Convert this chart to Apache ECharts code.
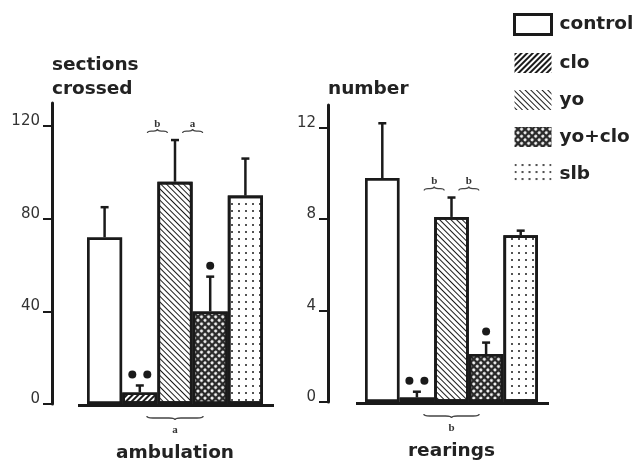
<!DOCTYPE html>
<html><head><meta charset="utf-8">
<script src="https://cdn.jsdelivr.net/npm/echarts@6/dist/echarts.min.js"></script>
<style>html,body{margin:0;padding:0;background:#fff}#c{width:636px;height:463px}</style>
</head><body><div id="c"></div>
<script>
// ---- data ----
const groups = ['control', 'clo', 'yo', 'yo+clo', 'slb'];
const ambulationMean = [72, 5, 96, 40, 90];
const ambulationErrTop = [85, 8, 114, 55, 106];
const rearingsMean = [9.8, 0.2, 8.1, 2.1, 7.3];
const rearingsErrTop = [12.2, 0.45, 8.95, 2.6, 7.5];
const ambulationTicks = [0, 40, 80, 120];
const rearingsTicks = [0, 4, 8, 12];
const ambulationDots = [0, 2, 0, 1, 0];
const rearingsDots = [0, 2, 0, 1, 0];
const ambulationTopLetters = ['b', 'a'];
const rearingsTopLetters = ['b', 'b'];
const ambulationBottomLetter = 'a';
const rearingsBottomLetter = 'b';

const INK = '#1a1a1a';
const FONT = 'DejaVu Sans';

const decals = {
  'control': null,
  'clo': { symbol: 'rect', symbolSize: 1, dashArrayX: [1, 0], dashArrayY: [1.7, 1.3], rotation: -Math.PI / 4, color: INK },
  'yo': { symbol: 'rect', symbolSize: 1, dashArrayX: [1, 0], dashArrayY: [1, 2.4], rotation: Math.PI / 4, color: INK },
  'yo+clo': { symbol: 'circle', symbolSize: 1, dashArrayX: [2.2, 1.3], dashArrayY: [2.2, 1.3], rotation: Math.PI / 4, color: '#fff', backgroundColor: '#2a2a2a' },
  'slb': { symbol: 'circle', symbolSize: 1, dashArrayX: [2, 5], dashArrayY: [2, 5], color: INK }
};

const panels = [
  { name: 'ambulation', yName: 'sections\ncrossed', mean: ambulationMean, err: ambulationErrTop, ticks: ambulationTicks,
    dots: ambulationDots, top: ambulationTopLetters, bottom: ambulationBottomLetter, max: 130,
    grid: { left: 87, width: 176, top: 103, bottom: 59 }, offset: 35, nameGap: 2 },
  { name: 'rearings', yName: 'number', mean: rearingsMean, err: rearingsErrTop, ticks: rearingsTicks,
    dots: rearingsDots, top: rearingsTopLetters, bottom: rearingsBottomLetter, max: 13,
    grid: { left: 365, width: 173, top: 105, bottom: 61 }, offset: 37, nameGap: 4 }
];

function bracePath(x1, x2, y, dir, h) {
  // horizontal curly brace, tip pointing in dir (+1 down, -1 up)
  const xm = (x1 + x2) / 2;
  const r = Math.min(6, (x2 - x1) / 5);
  const y0 = y - dir * h / 2, y1 = y + dir * h / 2;
  return 'M' + x1 + ' ' + y0 + ' Q' + x1 + ' ' + y + ' ' + (x1 + r) + ' ' + y +
    ' L' + (xm - r) + ' ' + y + ' Q' + xm + ' ' + y + ' ' + xm + ' ' + y1 +
    ' Q' + xm + ' ' + y + ' ' + (xm + r) + ' ' + y +
    ' L' + (x2 - r) + ' ' + y + ' Q' + x2 + ' ' + y + ' ' + x2 + ' ' + y0;
}

function errRender(params, api) {
  const i = api.value(3);
  const base = api.coord([0, 0]);
  const bw = api.size([1, 0])[0];
  const w = bw / groups.length;
  const cx = base[0] - bw / 2 + (i + 0.5) * w;
  const yMean = api.coord([0, api.value(1)])[1];
  const yErr = api.coord([0, api.value(2)])[1];
  const children = [
    { type: 'line', shape: { x1: cx, y1: yMean, x2: cx, y2: yErr }, style: { stroke: INK, lineWidth: 2.5 } },
    { type: 'line', shape: { x1: cx - 4, y1: yErr, x2: cx + 4, y2: yErr }, style: { stroke: INK, lineWidth: 2.5 } }
  ];
  const nd = api.value(4);
  for (let k = 0; k < nd; k++) {
    const dx = nd === 1 ? 0 : (k - (nd - 1) / 2) * 15;
    children.push({ type: 'circle', shape: { cx: cx + dx, cy: yErr - 11, r: 4 }, style: { fill: INK } });
  }
  return { type: 'group', children };
}

function notesRender(p) {
  const P = panels[p];
  return function (params, api) {
    const base = api.coord([0, 0]);
    const bw = api.size([1, 0])[0];
    const left = base[0] - bw / 2;
    const w = bw / groups.length;
    const ux = u => left + u * w;
    const children = [];
    children.push({ type: 'line', shape: { x1: left - 9, y1: base[1] + 1.5, x2: left + bw + 11, y2: base[1] + 1.5 },
      style: { stroke: INK, lineWidth: 3 } });
    const yTop = api.coord([0, P.err[2]])[1];
    P.top.forEach((t, k) => {
      const x = ux(2 + k);
      children.push({ type: 'text', style: { text: t, x: x, y: yTop - 16, align: 'center', verticalAlign: 'middle',
        font: 'bold 11px "Liberation Serif"', fill: '#333' } });
      children.push({ type: 'path', shape: { pathData: bracePath(x - 10, x + 10, yTop - 9, -1, 4) },
        style: { stroke: '#444', lineWidth: 1.3, fill: null } });
    });
    const xb = ux(2.5);
    children.push({ type: 'path', shape: { pathData: bracePath(ux(1.7), ux(3.3), base[1] + 14, 1, 4) },
      style: { stroke: '#444', lineWidth: 1.3, fill: null } });
    children.push({ type: 'text', style: { text: P.bottom, x: xb, y: base[1] + 26, align: 'center', verticalAlign: 'middle',
      font: 'bold 11px "Liberation Serif"', fill: '#333' } });
    return { type: 'group', children };
  };
}

const grid = [], xAxis = [], yAxis = [], series = [];
panels.forEach((P, p) => {
  grid.push(Object.assign({ containLabel: false }, P.grid));
  xAxis.push({ type: 'category', gridIndex: p, data: [P.name],
    axisLine: { show: false }, axisTick: { show: false },
    axisLabel: { margin: 40, fontFamily: FONT, fontWeight: 'bold', fontSize: 18.5, color: '#222' } });
  yAxis.push({ type: 'value', gridIndex: p, min: 0, max: P.max, offset: P.offset,
    name: P.yName, nameLocation: 'end', nameGap: P.nameGap,
    nameTextStyle: { align: 'left', verticalAlign: 'bottom', fontFamily: FONT, fontWeight: 'bold', fontSize: 18.5, lineHeight: 24, color: '#222' },
    axisLine: { show: true, lineStyle: { color: INK, width: 3 } },
    axisTick: { show: true, customValues: P.ticks, length: 9, lineStyle: { color: INK, width: 2 } },
    axisLabel: { customValues: P.ticks, margin: 12, fontFamily: FONT, fontSize: 15, color: '#333', verticalAlign: 'bottom', lineHeight: 10 },
    splitLine: { show: false } });
  groups.forEach((g, i) => {
    series.push({ type: 'bar', name: g, xAxisIndex: p, yAxisIndex: p, data: [P.mean[i]],
      barGap: '0%', barCategoryGap: '0%',
      itemStyle: { color: '#fff', borderColor: INK, borderWidth: 2.7, decal: decals[g] || undefined },
      emphasis: { disabled: true }, z: 2 });
  });
  series.push({ type: 'custom', name: 'err' + p, xAxisIndex: p, yAxisIndex: p, renderItem: errRender,
    data: groups.map((g, i) => [0, P.mean[i], P.err[i], i, P.dots[i]]), z: 3, silent: true });
  series.push({ type: 'custom', name: 'notes' + p, xAxisIndex: p, yAxisIndex: p, renderItem: notesRender(p),
    data: [[0, 0]], z: 4, silent: true });
});

const chart = echarts.init(document.getElementById('c'), null, { renderer: 'canvas' });
chart.setOption({
  animation: false,
  backgroundColor: '#fff',
  grid, xAxis, yAxis, series,
  legend: {
    orient: 'vertical', left: 513, top: 13, padding: 0, itemWidth: 37, itemHeight: 20, itemGap: 17,
    selectedMode: false, icon: 'rect',
    textStyle: { fontFamily: FONT, fontWeight: 'bold', fontSize: 18.5, color: '#222', padding: [0, 0, 0, 3] },
    data: groups.map(g => ({ name: g, itemStyle: g === 'control'
      ? { color: '#fff', borderColor: INK, borderWidth: 3 }
      : { color: '#fff', borderWidth: 0, decal: decals[g] } }))
  }
});
</script></body></html>
